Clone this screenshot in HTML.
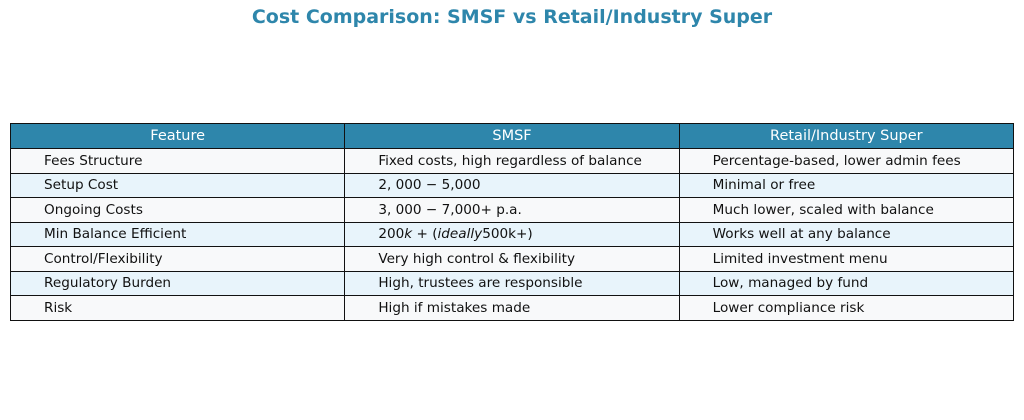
<!DOCTYPE html><html><head><style>
body{margin:0;width:1024px;height:420px;background:#fff;font-family:"DejaVu Sans","Liberation Sans",sans-serif;position:relative;overflow:hidden}
h1{position:absolute;top:6px;left:0;width:1024px;text-align:center;margin:0;font-size:19px;font-weight:bold;color:#2e86ab}
table{position:absolute;left:10px;top:123px;width:1004px;border-collapse:collapse;font-size:13.6px;color:#111;table-layout:fixed}
td,th{border:1.3px solid #111;padding:0 0 0 33px;text-align:left;width:33.33%;font-weight:normal;white-space:nowrap}
tbody tr{height:24.5px}
thead tr{height:25px}
th{background:#2e86ab;color:#fff;text-align:center;padding:0;font-size:14.5px}
tr:nth-child(odd) td{background:#f8f9fa}
tr:nth-child(even) td{background:#e8f4fb}
i{font-style:italic}
</style></head><body>
<h1>Cost Comparison: SMSF vs Retail/Industry Super</h1>
<table>
<thead><tr><th>Feature</th><th>SMSF</th><th>Retail/Industry Super</th></tr></thead>
<tbody>
<tr><td>Fees Structure</td><td>Fixed costs, high regardless of balance</td><td>Percentage-based, lower admin fees</td></tr>
<tr><td>Setup Cost</td><td>2, 000 − 5,000</td><td>Minimal or free</td></tr>
<tr><td>Ongoing Costs</td><td>3, 000 − 7,000+ p.a.</td><td>Much lower, scaled with balance</td></tr>
<tr><td>Min Balance Efficient</td><td>200<i>k</i> + (<i>ideally</i>500k+)</td><td>Works well at any balance</td></tr>
<tr><td>Control/Flexibility</td><td>Very high control &amp; flexibility</td><td>Limited investment menu</td></tr>
<tr><td>Regulatory Burden</td><td>High, trustees are responsible</td><td>Low, managed by fund</td></tr>
<tr><td>Risk</td><td>High if mistakes made</td><td>Lower compliance risk</td></tr>
</tbody></table>
</body></html>
